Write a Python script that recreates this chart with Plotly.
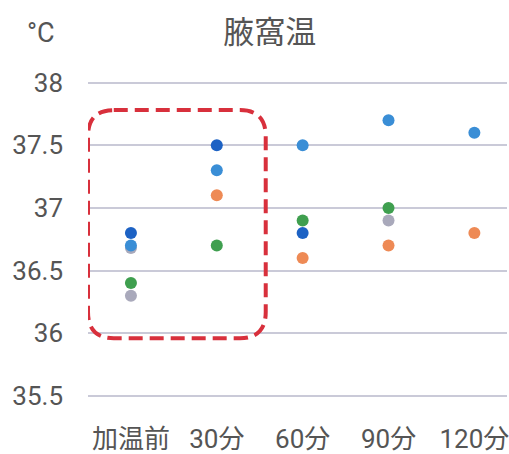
import plotly.graph_objects as go

# Measurement times
categories = ["加温前", "30分", "60分", "90分", "120分"]

# Axillary temperature (°C) per subject
dark_blue_x = ["加温前", "30分", "60分"]
dark_blue_y = [36.8, 37.5, 36.8]

grey_x = ["加温前", "加温前", "90分"]
grey_y = [36.68, 36.3, 36.9]

light_blue_x = ["加温前", "30分", "60分", "90分", "120分"]
light_blue_y = [36.7, 37.3, 37.5, 37.7, 37.6]

orange_x = ["30分", "60分", "90分", "120分"]
orange_y = [37.1, 36.6, 36.7, 36.8]

green_x = ["加温前", "30分", "60分", "90分"]
green_y = [36.4, 36.7, 36.9, 37.0]

y_ticks = [35.5, 36, 36.5, 37, 37.5, 38]
y_tick_text = ["35.5", "36", "36.5", "37", "37.5", "38"]

series = [
    (grey_x, grey_y, "#a9a9bb"),
    (light_blue_x, light_blue_y, "#3a8ed6"),
    (orange_x, orange_y, "#ee8a55"),
    (green_x, green_y, "#3f9f4f"),
    (dark_blue_x, dark_blue_y, "#1d62c4"),
]

fig = go.Figure()
for xs, ys, color in series:
    fig.add_trace(go.Scatter(
        x=xs, y=ys, mode="markers",
        marker=dict(size=12, color=color, line=dict(width=0)),
        showlegend=False,
    ))

# Rounded dashed frame highlighting the first two time points
x0, x1, y0, y1 = -0.5, 1.57, 35.96, 37.78
rx, ry = 0.3, 0.21
path = (
    f"M {x0 + rx},{y1} L {x1 - rx},{y1} Q {x1},{y1} {x1},{y1 - ry} "
    f"L {x1},{y0 + ry} Q {x1},{y0} {x1 - rx},{y0} "
    f"L {x0 + rx},{y0} Q {x0},{y0} {x0},{y0 + ry} "
    f"L {x0},{y1 - ry} Q {x0},{y1} {x0 + rx},{y1} Z"
)
fig.add_shape(type="path", path=path, xref="x", yref="y",
              line=dict(color="#d8303c", width=4, dash="14px,7px"))

font_family = "Roboto, Noto Sans CJK JP, sans-serif"
cjk_family = "Noto Sans CJK JP, sans-serif"
text_color = "#555555"

fig.update_layout(
    width=509, height=454,
    margin=dict(l=88, r=0, t=70, b=33),
    paper_bgcolor="white", plot_bgcolor="white",
    font=dict(family=font_family, color=text_color, size=25),
    title=dict(text="腋窩温", x=0.53, xanchor="center", y=0.93, yanchor="middle",
               font=dict(size=31, color=text_color, family=cjk_family)),
    xaxis=dict(
        type="category", categoryorder="array", categoryarray=categories,
        range=[-0.5, 4.38], showgrid=False, zeroline=False, showline=False,
        ticks="", tickfont=dict(size=26, color=text_color, family=font_family),
    ),
    yaxis=dict(
        range=[35.3, 38.1], tickvals=y_ticks, ticktext=y_tick_text,
        showgrid=True, gridcolor="#cacad8", gridwidth=1.5,
        zeroline=False, showline=False, ticks="",
        ticklabelstandoff=24, tickfont=dict(size=26, color=text_color, family=font_family),
    ),
    annotations=[dict(
        text="°C", xref="paper", yref="paper", x=-0.15, y=1.0, yshift=37,
        xanchor="left", yanchor="middle", showarrow=False,
        font=dict(size=27, color=text_color, family=font_family),
    )],
)

fig.write_html("out.html")
